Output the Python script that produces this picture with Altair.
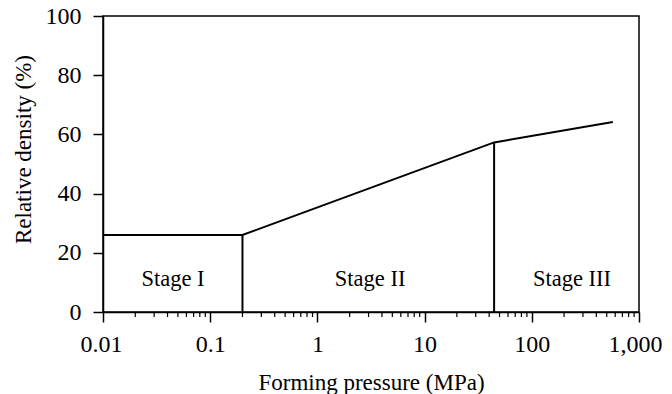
import altair as alt
import pandas as pd

# main curve
curve_x = [0.01, 0.2, 44.5, 570]
curve_y = [26, 26, 57.3, 64.2]

# stage boundary verticals
bound_x = [0.2, 44.5]
bound_y = [26, 57.3]

# stage labels
stage_names = ["Stage I", "Stage II", "Stage III"]
stage_x = [0.045, 3.1, 237]
stage_y = [11, 11, 11]

# axis ticks
x_major = [0.01, 0.1, 1, 10, 100, 1000]
y_major = [0, 20, 40, 60, 80, 100]
minor_mult = [2, 3, 4, 5, 6, 7, 8, 9]
decades = [0.01, 0.1, 1, 10, 100]
x_minor = [d * m for d in decades for m in minor_mult]

FONT = "Liberation Serif"

xscale = alt.Scale(type="log", domain=[0.01, 1000], nice=False)
yscale = alt.Scale(domain=[0, 100], nice=False)

curve_df = pd.DataFrame({"x": curve_x, "y": curve_y})
bound_df = pd.DataFrame({"x": bound_x, "y": bound_y, "y0": [0, 0]})
stage_df = pd.DataFrame({"name": stage_names, "x": stage_x, "y": stage_y})
minor_df = pd.DataFrame({"x": x_minor})

line = alt.Chart(curve_df).mark_line(color="black", strokeWidth=2).encode(
    x=alt.X("x:Q", scale=xscale, title="Forming pressure (MPa)",
            axis=alt.Axis(values=x_major, format=",~g", tickSize=10,
                          labelPadding=10, grid=False, labelFlush=True,
                          labelFlushOffset=23, labelOverlap=False,
                          titleX=268, titleY=70, titleBaseline="middle")),
    y=alt.Y("y:Q", scale=yscale, title="Relative density (%)",
            axis=alt.Axis(values=y_major, tickSize=10, labelPadding=12,
                          grid=False, labelFlush=False, labelOverlap=False,
                          titleX=-80, titleY=133,
                          titleBaseline="middle")),
)

bounds = alt.Chart(bound_df).mark_rule(color="black", strokeWidth=2).encode(
    x=alt.X("x:Q", scale=xscale),
    y=alt.Y("y0:Q", scale=yscale),
    y2="y:Q",
)

minor = alt.Chart(minor_df).mark_rule(color="black", strokeWidth=1.2).encode(
    x=alt.X("x:Q", scale=xscale),
    y=alt.value(296),
    y2=alt.value(301),
)

labels = alt.Chart(stage_df).mark_text(font=FONT, fontSize=22.5, color="black").encode(
    x=alt.X("x:Q", scale=xscale),
    y=alt.Y("y:Q", scale=yscale),
    text="name:N",
)

chart = alt.layer(minor, bounds, line, labels).properties(
    width=536, height=296,
    padding={"left": 95, "top": 8, "right": 25, "bottom": 82},
    autosize=alt.AutoSizeParams(type="none"),
).configure_view(
    stroke="black", strokeWidth=1.5
).configure_axis(
    labelFont=FONT, titleFont=FONT, labelFontSize=24, titleFontSize=23,
    labelColor="black", titleColor="black", titleFontWeight="normal",
    domainColor="black", domainWidth=1.5, tickColor="black", tickWidth=1.5,
)

chart.save("out.html", embed_options={"renderer": "svg", "actions": False})
